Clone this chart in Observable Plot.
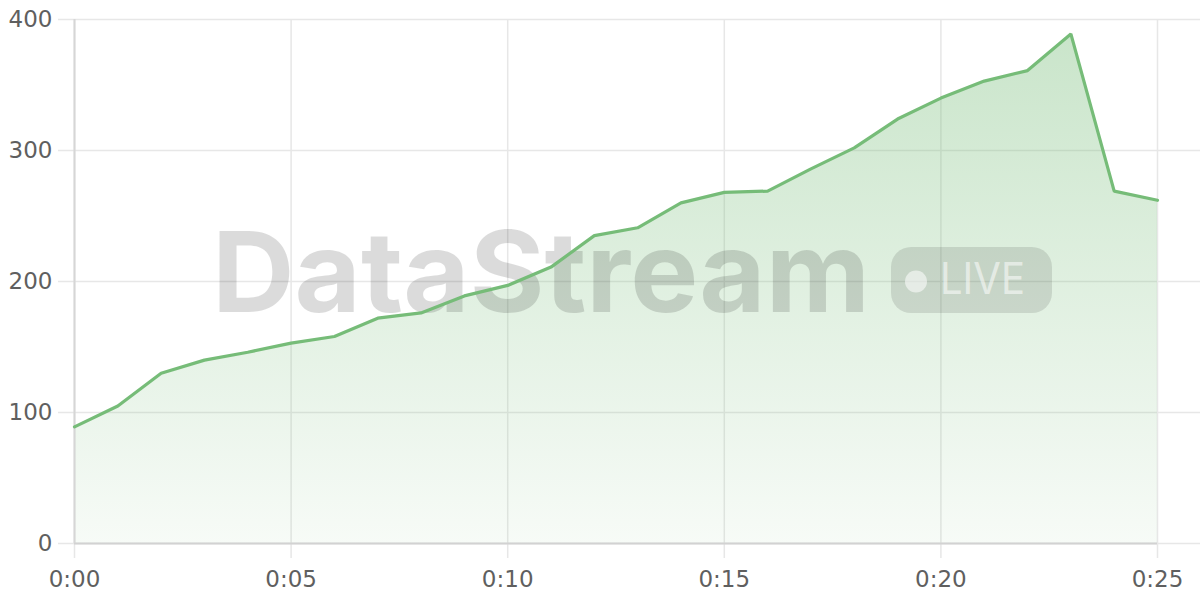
<!DOCTYPE html>
<html>
<head>
<meta charset="utf-8">
<script src="https://cdn.jsdelivr.net/npm/d3@7"></script>
<script src="https://cdn.jsdelivr.net/npm/@observablehq/plot@0.6"></script>
<style>
  html, body { margin: 0; padding: 0; background: #fff; }
  #chart { width: 1200px; height: 600px; }
</style>
</head>
<body>
<div id="chart"></div>
<script>
// ---- data ----
const timeLabels = ["0:00","0:01","0:02","0:03","0:04","0:05","0:06","0:07","0:08","0:09",
                    "0:10","0:11","0:12","0:13","0:14","0:15","0:16","0:17","0:18","0:19",
                    "0:20","0:21","0:22","0:23","0:24","0:25"];
const values = [89,105,130,140,146,153,158,172,176,189,
                197,211,235,241,260,268,269,286,302,324,
                340,353,361,389,269,262];
const xTickLabels = ["0:00","0:05","0:10","0:15","0:20","0:25"];
const yTicks = [0,100,200,300,400];
const watermarkText = "DataStream";
const badgeText = "LIVE";

const data = timeLabels.map((t, i) => ({i, t, v: values[i]}));
const xTicks = xTickLabels.map(l => timeLabels.indexOf(l));

const lineColor = "#76bc78";

function watermark(index, scales, values, dim) {
  const cx = dim.marginLeft + (dim.width - dim.marginLeft - dim.marginRight) / 2;
  const cy = dim.marginTop + (dim.height - dim.marginTop - dim.marginBottom) / 2;
  const g = d3.create("svg:g").attr("transform", `translate(${cx},${cy})`)
    .attr("text-anchor", "start");
  g.append("text")
    .attr("x", -403.5).attr("y", 31)
    .attr("text-anchor", "start")
    .attr("font-family", "Inter, 'DejaVu Sans', sans-serif")
    .attr("font-weight", 700).attr("font-size", 112)
    .attr("textLength", 658).attr("lengthAdjust", "spacingAndGlyphs")
    .attr("fill", "#000").attr("fill-opacity", 0.14)
    .text(watermarkText);
  g.append("rect")
    .attr("x", 275.5).attr("y", -34).attr("width", 161).attr("height", 66)
    .attr("rx", 20).attr("fill", "#000").attr("fill-opacity", 0.11);
  g.append("circle")
    .attr("cx", 300.5).attr("cy", 0.5).attr("r", 11)
    .attr("fill", "#fff").attr("fill-opacity", 0.55);
  g.append("text")
    .attr("x", 324.5).attr("y", 13)
    .attr("text-anchor", "start")
    .attr("font-family", "Inter, 'DejaVu Sans', sans-serif")
    .attr("font-weight", 400).attr("font-size", 44)
    .attr("textLength", 85).attr("lengthAdjust", "spacingAndGlyphs")
    .attr("fill", "#fff").attr("fill-opacity", 0.55)
    .text(badgeText);
  return g.node();
}

const plot = Plot.plot({
  width: 1200,
  height: 600,
  marginLeft: 74,
  marginRight: 43,
  marginTop: 19,
  marginBottom: 57,
  style: {fontFamily: "'DejaVu Sans', sans-serif", fontSize: "23px", color: "#5f5f5f", background: "#fff"},
  x: {domain: [0, timeLabels.length - 1]},
  y: {domain: [0, 400]},
  marks: [
    // grid lines (extend past the axes like tick marks)
    Plot.ruleY(yTicks, {stroke: "#e7e7e7", strokeWidth: 1.5, insetLeft: -16, insetRight: -43}),
    Plot.ruleX(xTicks, {stroke: "#e7e7e7", strokeWidth: 1.5, insetBottom: -15}),
    // area with gradient
    Plot.areaY(data, {x: "i", y: "v", fill: "url(#areaGrad)"}),
    watermark,
    // axis lines
    Plot.ruleY([0], {stroke: "#d2d2d2", strokeWidth: 2}),
    Plot.ruleX([0], {stroke: "#d6d6d6", strokeWidth: 2}),
    Plot.lineY(data, {x: "i", y: "v", stroke: lineColor, strokeWidth: 3.2, strokeLinejoin: "miter"}),
    Plot.axisY(yTicks, {tickSize: 0, tickPadding: 22, label: null, fill: "#5f5f5f"}),
    Plot.axisX(xTicks, {tickSize: 0, tickPadding: 27, label: null, fill: "#5f5f5f",
      tickFormat: i => timeLabels[i]})
  ]
});

const svg = d3.select(plot);
const defs = svg.insert("defs", ":first-child");
const grad = defs.append("linearGradient")
  .attr("id", "areaGrad")
  .attr("gradientUnits", "userSpaceOnUse")
  .attr("x1", 0).attr("x2", 0).attr("y1", 19).attr("y2", 543);
grad.append("stop").attr("offset", 0).attr("stop-color", lineColor).attr("stop-opacity", 0.4);
grad.append("stop").attr("offset", 1).attr("stop-color", lineColor).attr("stop-opacity", 0.06);

document.getElementById("chart").appendChild(plot);
</script>
</body>
</html>
